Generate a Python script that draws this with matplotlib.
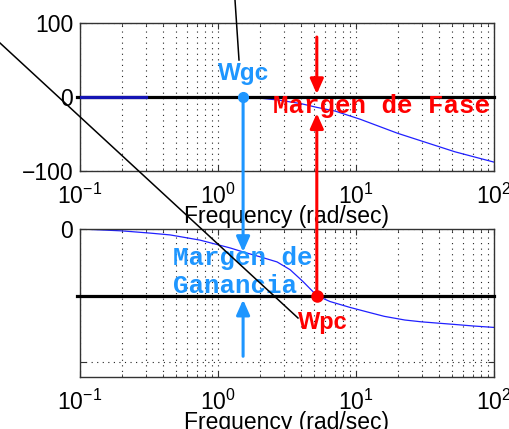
import matplotlib
matplotlib.use("Agg")
import matplotlib.pyplot as plt
from matplotlib.lines import Line2D

plt.rcParams["font.family"] = "Liberation Sans"
plt.rcParams["mathtext.fontset"] = "custom"
plt.rcParams["mathtext.rm"] = "Liberation Sans"
plt.rcParams["mathtext.it"] = "Liberation Sans:italic"
plt.rcParams["mathtext.bf"] = "Liberation Sans:bold"

# upper trace (magnitude-like curve)
mag_freq = [0.1, 0.3, 1.0, 2.0, 2.7, 3.06, 4.0, 5.2, 7.05, 10.7, 20.0, 52.0, 100.0]
mag_vals = [0, 0, -0.3, -1.5, -4, -5.5, -9, -14, -19, -30, -49, -74, -88]
# flat start that sits on top of the 0 line
flat_freq = [0.1, 0.3]
flat_vals = [0, 0]

# lower trace (phase-like curve)
ph_freq = [0.1, 0.2, 0.32, 0.45, 0.74, 1.22, 1.52, 2.01, 2.68, 3.33, 4.13,
           5.2, 6.48, 9.06, 12.6, 16.0, 22.6, 30.0, 52.0, 70.0, 100.0]
ph_vals = [0, -5, -11, -16, -30, -51, -62, -75, -89, -110, -142,
           -180, -196, -212, -226, -236, -246, -251, -258, -262, -266]

# crossover frequencies and margin markers
wgc = 1.52
wpc = 5.2
phase_at_wgc = -62
gm_arrow = [-344, -191]      # lower blue arrow: tail, tip
pm_tip = -22                 # red arrow tip on upper curve
pm_arrow = [81, 4]           # red arrow from above: tail, tip

top_yticks = [-100, 0, 100]
bot_yticks = [0, -180, -360]
bot_yticklabels = ["0", "", ""]

light_blue = "#1e96ff"
curve_blue = "#2020ff"
red = "#ff0000"

fig = plt.figure(figsize=(5.1, 4.29), dpi=100)
W, H = 510.0, 429.0
ax1 = fig.add_axes([80 / W, 1 - 171 / H, 414 / W, 148 / H])
ax2 = fig.add_axes([80 / W, 1 - 377 / H, 414 / W, 148 / H])

for ax in (ax1, ax2):
    ax.set_xscale("log")
    ax.set_xlim(0.1, 100)
    ax.grid(True, which="both", color="#222222", ls=(0, (1, 4)), lw=0.8)
    ax.tick_params(which="both", direction="in", top=True, right=True,
                   labelsize=16.5, color="#333333")
    ax.tick_params(which="major", length=4, pad=5)
    ax.tick_params(axis="x", which="major", pad=9)
    ax.tick_params(which="minor", length=2)
    for s in ax.spines.values():
        s.set_color("#333333")
        s.set_linewidth(1.0)
    ax.set_xlabel("Frequency (rad/sec)", fontsize=16.5, labelpad=-3)

ax1.set_ylim(-100, 100)
ax1.set_yticks(top_yticks)
ax2.set_ylim(-400, 0)
ax2.set_yticks(bot_yticks)
ax2.set_yticklabels(bot_yticklabels)

# curves
ax1.plot(mag_freq, mag_vals, color=curve_blue, lw=0.9, zorder=2)
ax2.plot(ph_freq, ph_vals, color=curve_blue, lw=0.9, zorder=2)

# thick reference lines
ax1.axhline(0, xmin=-0.008, xmax=1.0, color="k", lw=2.3, clip_on=False, zorder=3)
ax2.axhline(-180, xmin=-0.008, xmax=1.0, color="k", lw=2.3, clip_on=False, zorder=3)
ax1.plot(flat_freq, flat_vals, color="#1414b4", lw=2.3, zorder=4)

arrow_kw = dict(arrowstyle="-|>,head_length=0.9,head_width=0.4",
                lw=2.2, shrinkA=0, shrinkB=0, mutation_scale=10)

# gain crossover: point, drop line and arrows
ax1.plot(wgc, 0, "o", color=light_blue, ms=7, zorder=6)
ax2.annotate("", xy=(wgc, phase_at_wgc), xycoords="data",
             xytext=(wgc, 0), textcoords=ax1.transData,
             arrowprops=dict(color=light_blue, **arrow_kw),
             annotation_clip=False, zorder=6)
ax2.annotate("", xy=(wgc, gm_arrow[1]), xytext=(wgc, gm_arrow[0]),
             arrowprops=dict(color=light_blue, **arrow_kw), zorder=6)

# phase crossover: point, rise line and arrows
ax2.plot(wpc, -180, "o", color=red, ms=8, zorder=6)
ax2.annotate("", xy=(wpc, pm_tip), xycoords=ax1.transData,
             xytext=(wpc, -180), textcoords="data",
             arrowprops=dict(color=red, **arrow_kw),
             annotation_clip=False, zorder=6)
ax1.annotate("", xy=(wpc, pm_arrow[1]), xytext=(wpc, pm_arrow[0]),
             arrowprops=dict(color=red, **arrow_kw), zorder=6)

# labels
ax1.text(wgc, 23, "Wgc", color=light_blue, fontsize=17.5, fontweight="bold",
         ha="center", va="baseline", zorder=7)
ax1.text(15.2, -22, "Margen de Fase", family="Liberation Mono", fontweight="bold",
         fontsize=18.5, color=red, ha="center", va="baseline", zorder=7)
ax2.text(0.472, -97, "Margen de", family="Liberation Mono", fontweight="bold",
         fontsize=18.5, color=light_blue, ha="left", va="baseline", zorder=7)
ax2.text(0.472, -172, "Ganancia", family="Liberation Mono", fontweight="bold",
         fontsize=18.5, color=light_blue, ha="left", va="baseline", zorder=7)
ax2.text(3.8, -269, "Wpc", color=red, fontsize=17, fontweight="bold",
         ha="left", va="baseline", zorder=7)

# leader lines pointing at the crossover labels
fig.add_artist(Line2D([0 / W, 298 / W], [1 - 43 / H, 1 - 318 / H], color="k", lw=1.1))
fig.add_artist(Line2D([235 / W, 239 / W], [1.0, 1 - 60 / H], color="k", lw=1.1))

fig.savefig("out.png", dpi=100, facecolor="white")
